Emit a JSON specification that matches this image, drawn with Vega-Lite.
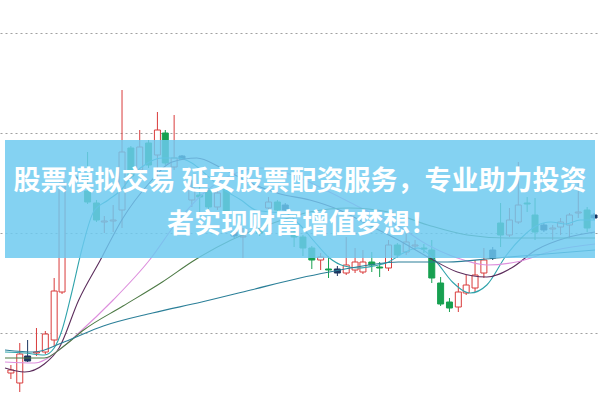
{
  "$schema": "https://vega.github.io/schema/vega-lite/v6.json",
  "width": 600,
  "height": 400,
  "autosize": {"type": "fit", "contains": "padding"},
  "padding": 0,
  "background": "#ffffff",
  "config": {"view": {"stroke": null}},
  "datasets": {
    "candles": [
      {"t": 6, "o": 27, "c": 30, "h": 35, "l": 21, "k": "up"},
      {"t": 15, "o": 17, "c": 46, "h": 57, "l": 8, "k": "up"},
      {"t": 23, "o": 44, "c": 39, "h": 60, "l": 38, "k": "dark"},
      {"t": 32, "o": 47, "c": 48, "h": 72, "l": 44, "k": "up"},
      {"t": 41, "o": 48, "c": 66, "h": 69, "l": 46, "k": "up"},
      {"t": 50, "o": 60, "c": 109, "h": 122, "l": 54, "k": "up"},
      {"t": 58, "o": 108, "c": 217, "h": 217, "l": 106, "k": "up"},
      {"t": 75, "o": 223, "c": 220, "h": 225, "l": 219, "k": "dark"},
      {"t": 84, "o": 209, "c": 198, "h": 248, "l": 196, "k": "down"},
      {"t": 93, "o": 197, "c": 180, "h": 200, "l": 178, "k": "down"},
      {"t": 101, "o": 178, "c": 179, "h": 184, "l": 167, "k": "up"},
      {"t": 110, "o": 179, "c": 180, "h": 195, "l": 168, "k": "up"},
      {"t": 119, "o": 190, "c": 248, "h": 310, "l": 172, "k": "up"},
      {"t": 128, "o": 252, "c": 224, "h": 254, "l": 220, "k": "down"},
      {"t": 137, "o": 230, "c": 253, "h": 270, "l": 225, "k": "up"},
      {"t": 146, "o": 257, "c": 235, "h": 260, "l": 232, "k": "down"},
      {"t": 155, "o": 245, "c": 270, "h": 288, "l": 222, "k": "up"},
      {"t": 163, "o": 267, "c": 237, "h": 270, "l": 235, "k": "down"},
      {"t": 172, "o": 233, "c": 242, "h": 285, "l": 230, "k": "up"},
      {"t": 180, "o": 244, "c": 241, "h": 245, "l": 240, "k": "dark"},
      {"t": 190, "o": 200, "c": 212, "h": 220, "l": 193, "k": "up"},
      {"t": 198, "o": 205, "c": 203, "h": 217, "l": 185, "k": "down"},
      {"t": 207, "o": 210, "c": 193, "h": 212, "l": 190, "k": "down"},
      {"t": 216, "o": 193, "c": 207, "h": 212, "l": 190, "k": "up"},
      {"t": 225, "o": 212, "c": 188, "h": 214, "l": 186, "k": "down"},
      {"t": 233, "o": 168, "c": 164, "h": 170, "l": 162, "k": "dark"},
      {"t": 242, "o": 163, "c": 164, "h": 172, "l": 142, "k": "up"},
      {"t": 259, "o": 169, "c": 167, "h": 175, "l": 164, "k": "down"},
      {"t": 268, "o": 192, "c": 198, "h": 203, "l": 188, "k": "up"},
      {"t": 277, "o": 198, "c": 190, "h": 200, "l": 187, "k": "down"},
      {"t": 285, "o": 195, "c": 190, "h": 197, "l": 189, "k": "dark"},
      {"t": 294, "o": 168, "c": 163, "h": 170, "l": 153, "k": "down"},
      {"t": 303, "o": 163, "c": 152, "h": 165, "l": 144, "k": "down"},
      {"t": 312, "o": 152, "c": 140, "h": 154, "l": 131, "k": "down"},
      {"t": 321, "o": 140, "c": 143, "h": 147, "l": 130, "k": "up"},
      {"t": 329, "o": 131, "c": 130, "h": 144, "l": 122, "k": "down"},
      {"t": 338, "o": 131, "c": 127, "h": 134, "l": 124, "k": "dark"},
      {"t": 347, "o": 127, "c": 135, "h": 163, "l": 125, "k": "up"},
      {"t": 356, "o": 130, "c": 138, "h": 152, "l": 127, "k": "up"},
      {"t": 364, "o": 128, "c": 138, "h": 150, "l": 126, "k": "up"},
      {"t": 373, "o": 138, "c": 135, "h": 148, "l": 128, "k": "down"},
      {"t": 381, "o": 133, "c": 132, "h": 138, "l": 123, "k": "down"},
      {"t": 390, "o": 132, "c": 155, "h": 160, "l": 129, "k": "up"},
      {"t": 399, "o": 155, "c": 145, "h": 157, "l": 142, "k": "down"},
      {"t": 408, "o": 148, "c": 158, "h": 167, "l": 145, "k": "up"},
      {"t": 417, "o": 154, "c": 155, "h": 160, "l": 150, "k": "up"},
      {"t": 426, "o": 152, "c": 151, "h": 156, "l": 147, "k": "down"},
      {"t": 434, "o": 150, "c": 122, "h": 160, "l": 117, "k": "down"},
      {"t": 443, "o": 117, "c": 96, "h": 123, "l": 94, "k": "down"},
      {"t": 452, "o": 98, "c": 92, "h": 102, "l": 88, "k": "down"},
      {"t": 461, "o": 93, "c": 108, "h": 117, "l": 88, "k": "up"},
      {"t": 469, "o": 107, "c": 115, "h": 125, "l": 105, "k": "up"},
      {"t": 478, "o": 112, "c": 125, "h": 140, "l": 108, "k": "up"},
      {"t": 487, "o": 127, "c": 140, "h": 152, "l": 122, "k": "up"},
      {"t": 496, "o": 150, "c": 142, "h": 153, "l": 140, "k": "dark"},
      {"t": 504, "o": 177, "c": 165, "h": 197, "l": 153, "k": "down"},
      {"t": 513, "o": 165, "c": 180, "h": 192, "l": 163, "k": "up"},
      {"t": 522, "o": 178, "c": 195, "h": 238, "l": 176, "k": "up"},
      {"t": 531, "o": 197, "c": 196, "h": 203, "l": 188, "k": "down"},
      {"t": 539, "o": 185, "c": 168, "h": 202, "l": 160, "k": "down"},
      {"t": 548, "o": 175, "c": 170, "h": 177, "l": 168, "k": "dark"},
      {"t": 557, "o": 171, "c": 172, "h": 175, "l": 160, "k": "up"},
      {"t": 565, "o": 173, "c": 178, "h": 182, "l": 165, "k": "up"},
      {"t": 574, "o": 175, "c": 185, "h": 187, "l": 162, "k": "up"},
      {"t": 583, "o": 187, "c": 188, "h": 217, "l": 182, "k": "up"},
      {"t": 592, "o": 190, "c": 172, "h": 193, "l": 168, "k": "down"},
      {"t": 599, "o": 185, "c": 182, "h": 187, "l": 180, "k": "dark"}
    ],
    "ma": [
      {"ma": "MA5", "t": 0, "v": 48}, {"ma": "MA5", "t": 20, "v": 47}, {"ma": "MA5", "t": 40, "v": 45}, {"ma": "MA5", "t": 50, "v": 52}, {"ma": "MA5", "t": 58, "v": 70}, {"ma": "MA5", "t": 68, "v": 108}, {"ma": "MA5", "t": 78, "v": 150}, {"ma": "MA5", "t": 90, "v": 188}, {"ma": "MA5", "t": 105, "v": 200}, {"ma": "MA5", "t": 118, "v": 210}, {"ma": "MA5", "t": 130, "v": 225}, {"ma": "MA5", "t": 145, "v": 237}, {"ma": "MA5", "t": 160, "v": 242}, {"ma": "MA5", "t": 175, "v": 242}, {"ma": "MA5", "t": 190, "v": 237}, {"ma": "MA5", "t": 205, "v": 225}, {"ma": "MA5", "t": 220, "v": 212}, {"ma": "MA5", "t": 240, "v": 200}, {"ma": "MA5", "t": 255, "v": 190}, {"ma": "MA5", "t": 270, "v": 188}, {"ma": "MA5", "t": 285, "v": 187}, {"ma": "MA5", "t": 300, "v": 175}, {"ma": "MA5", "t": 315, "v": 158}, {"ma": "MA5", "t": 330, "v": 142}, {"ma": "MA5", "t": 345, "v": 134}, {"ma": "MA5", "t": 360, "v": 132}, {"ma": "MA5", "t": 375, "v": 134}, {"ma": "MA5", "t": 390, "v": 138}, {"ma": "MA5", "t": 405, "v": 147}, {"ma": "MA5", "t": 420, "v": 152}, {"ma": "MA5", "t": 437, "v": 140}, {"ma": "MA5", "t": 455, "v": 118}, {"ma": "MA5", "t": 473, "v": 107}, {"ma": "MA5", "t": 490, "v": 115}, {"ma": "MA5", "t": 510, "v": 145}, {"ma": "MA5", "t": 525, "v": 162}, {"ma": "MA5", "t": 540, "v": 174}, {"ma": "MA5", "t": 555, "v": 178}, {"ma": "MA5", "t": 570, "v": 176}, {"ma": "MA5", "t": 585, "v": 180}, {"ma": "MA5", "t": 600, "v": 180},
      {"ma": "MA10", "t": 0, "v": 32}, {"ma": "MA10", "t": 20, "v": 28}, {"ma": "MA10", "t": 40, "v": 36}, {"ma": "MA10", "t": 55, "v": 52}, {"ma": "MA10", "t": 75, "v": 100}, {"ma": "MA10", "t": 97, "v": 140}, {"ma": "MA10", "t": 120, "v": 182}, {"ma": "MA10", "t": 145, "v": 215}, {"ma": "MA10", "t": 170, "v": 238}, {"ma": "MA10", "t": 195, "v": 242}, {"ma": "MA10", "t": 220, "v": 232}, {"ma": "MA10", "t": 250, "v": 217}, {"ma": "MA10", "t": 280, "v": 206}, {"ma": "MA10", "t": 310, "v": 200}, {"ma": "MA10", "t": 340, "v": 190}, {"ma": "MA10", "t": 370, "v": 175}, {"ma": "MA10", "t": 400, "v": 160}, {"ma": "MA10", "t": 430, "v": 143}, {"ma": "MA10", "t": 460, "v": 128}, {"ma": "MA10", "t": 490, "v": 123}, {"ma": "MA10", "t": 515, "v": 132}, {"ma": "MA10", "t": 540, "v": 150}, {"ma": "MA10", "t": 570, "v": 162}, {"ma": "MA10", "t": 600, "v": 168},
      {"ma": "MA20", "t": 0, "v": 38}, {"ma": "MA20", "t": 30, "v": 37}, {"ma": "MA20", "t": 55, "v": 50}, {"ma": "MA20", "t": 75, "v": 67}, {"ma": "MA20", "t": 110, "v": 100}, {"ma": "MA20", "t": 147, "v": 140}, {"ma": "MA20", "t": 175, "v": 178}, {"ma": "MA20", "t": 200, "v": 205}, {"ma": "MA20", "t": 230, "v": 225}, {"ma": "MA20", "t": 260, "v": 232}, {"ma": "MA20", "t": 300, "v": 222}, {"ma": "MA20", "t": 330, "v": 208}, {"ma": "MA20", "t": 360, "v": 193}, {"ma": "MA20", "t": 400, "v": 174}, {"ma": "MA20", "t": 430, "v": 155}, {"ma": "MA20", "t": 460, "v": 142}, {"ma": "MA20", "t": 490, "v": 135}, {"ma": "MA20", "t": 520, "v": 138}, {"ma": "MA20", "t": 560, "v": 150}, {"ma": "MA20", "t": 600, "v": 156},
      {"ma": "MA30", "t": 0, "v": 42}, {"ma": "MA30", "t": 40, "v": 42}, {"ma": "MA30", "t": 60, "v": 54}, {"ma": "MA30", "t": 80, "v": 70}, {"ma": "MA30", "t": 120, "v": 94}, {"ma": "MA30", "t": 160, "v": 118}, {"ma": "MA30", "t": 193, "v": 140}, {"ma": "MA30", "t": 230, "v": 160}, {"ma": "MA30", "t": 270, "v": 176}, {"ma": "MA30", "t": 310, "v": 188}, {"ma": "MA30", "t": 350, "v": 192}, {"ma": "MA30", "t": 390, "v": 188}, {"ma": "MA30", "t": 430, "v": 175}, {"ma": "MA30", "t": 470, "v": 165}, {"ma": "MA30", "t": 510, "v": 162}, {"ma": "MA30", "t": 560, "v": 162}, {"ma": "MA30", "t": 600, "v": 162},
      {"ma": "MA60", "t": 0, "v": 50}, {"ma": "MA60", "t": 30, "v": 48}, {"ma": "MA60", "t": 60, "v": 58}, {"ma": "MA60", "t": 100, "v": 74}, {"ma": "MA60", "t": 150, "v": 87}, {"ma": "MA60", "t": 200, "v": 98}, {"ma": "MA60", "t": 250, "v": 110}, {"ma": "MA60", "t": 300, "v": 122}, {"ma": "MA60", "t": 330, "v": 128}, {"ma": "MA60", "t": 370, "v": 135}, {"ma": "MA60", "t": 400, "v": 138}, {"ma": "MA60", "t": 450, "v": 138}, {"ma": "MA60", "t": 500, "v": 142}, {"ma": "MA60", "t": 550, "v": 146}, {"ma": "MA60", "t": 600, "v": 150}
    ],
    "banner": [{"x1": 0, "x2": 600, "y1": 260, "y2": 142}],
    "texts": [
      {"tx": 300, "ty": 218, "label": "股票模拟交易 延安股票配资服务，专业助力投资"},
      {"tx": 302, "ty": 175, "label": "者实现财富增值梦想！"}
    ]
  },
  "resolve": {"scale": {"color": "independent", "stroke": "independent", "fill": "independent"}},
  "layer": [
    {
      "data": {"name": "candles"},
      "mark": {"type": "rule", "strokeWidth": 1},
      "encoding": {
        "x": {"field": "t", "type": "quantitative", "scale": {"domain": [0, 600], "nice": false, "zero": false}, "axis": null},
        "y": {"field": "h", "type": "quantitative", "scale": {"domain": [0, 400], "nice": false, "zero": false},
              "axis": {"values": [67, 167, 267, 367], "grid": true, "gridDash": [2, 3], "gridColor": "#a0a0a0", "gridWidth": 1, "labels": false, "ticks": false, "domain": false, "title": null}},
        "y2": {"field": "l"},
        "color": {"field": "k", "type": "nominal", "scale": {"domain": ["up", "down", "dark"], "range": ["#d93b3b", "#17a050", "#1c3560"]}, "legend": null}
      }
    },
    {
      "data": {"name": "candles"},
      "mark": {"type": "bar", "size": 6, "strokeWidth": 1},
      "encoding": {
        "x": {"field": "t", "type": "quantitative"},
        "y": {"field": "o", "type": "quantitative"},
        "y2": {"field": "c"},
        "fill": {"field": "k", "type": "nominal", "scale": {"domain": ["up", "down", "dark"], "range": ["#ffffff", "#17a050", "#1c3560"]}, "legend": null},
        "stroke": {"field": "k", "type": "nominal", "scale": {"domain": ["up", "down", "dark"], "range": ["#d93b3b", "#17a050", "#1c3560"]}, "legend": null}
      }
    },
    {
      "data": {"name": "ma"},
      "mark": {"type": "line", "strokeWidth": 1.1, "interpolate": "monotone"},
      "encoding": {
        "x": {"field": "t", "type": "quantitative"},
        "y": {"field": "v", "type": "quantitative"},
        "color": {"field": "ma", "type": "nominal", "scale": {"domain": ["MA5", "MA10", "MA20", "MA30", "MA60"], "range": ["#2fa3ab", "#5c2d5c", "#dd8fdd", "#4d7a45", "#2b7f98"]}, "legend": null},
        "detail": {"field": "ma"}
      }
    },
    {
      "data": {"name": "banner"},
      "mark": {"type": "rect", "fill": "#6cc9ef", "opacity": 0.84},
      "encoding": {
        "x": {"field": "x1", "type": "quantitative"},
        "x2": {"field": "x2"},
        "y": {"field": "y1", "type": "quantitative"},
        "y2": {"field": "y2"}
      }
    },
    {
      "data": {"name": "texts"},
      "mark": {"type": "text", "font": "Noto Sans CJK SC", "fontSize": 27, "fontWeight": "bold", "fill": "#ffffff", "align": "center", "baseline": "middle"},
      "encoding": {
        "x": {"field": "tx", "type": "quantitative"},
        "y": {"field": "ty", "type": "quantitative"},
        "text": {"field": "label"}
      }
    }
  ]
}
